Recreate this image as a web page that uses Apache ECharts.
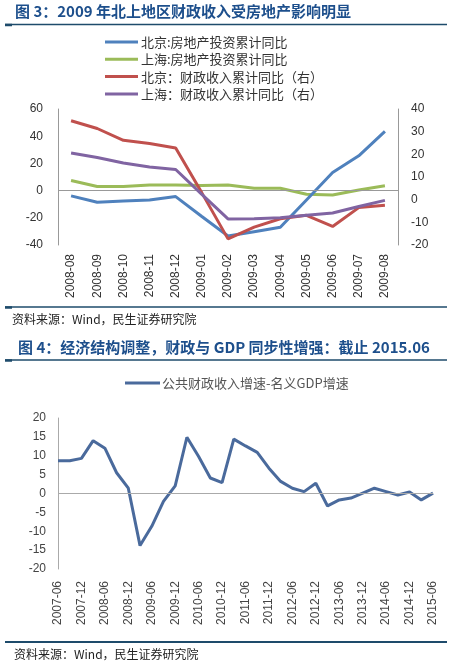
<!DOCTYPE html>
<html>
<head>
<meta charset="utf-8">
<script src="https://cdn.jsdelivr.net/npm/echarts@6/dist/echarts.min.js"></script>
<style>
html,body{margin:0;padding:0;background:#fff;}
#c{width:455px;height:665px;}
</style>
</head>
<body>
<div id="c"></div>
<script>
// ---- Figure 3 data ----
var cats1 = ['2008-08','2008-09','2008-10','2008-11','2008-12','2009-01','2009-02','2009-03','2009-04','2009-05','2009-06','2009-07','2009-08'];
var bjInvest = [-3.9,-8.6,-7.6,-6.9,-4.4,-19.0,-33.4,-30.2,-27.0,-6.9,13.3,25.6,43.5];
var shInvest = [7.4,3.0,3.0,4.2,4.2,3.7,4.2,1.7,1.7,-2.7,-3.2,0.5,3.5];
var bjRevenue = [34.8,31.4,26.2,24.8,22.8,3.0,-17.3,-12.1,-8.4,-6.9,-11.8,-3.5,-2.5];
var shRevenue = [20.6,18.6,16.2,14.4,13.3,2.3,-8.5,-8.4,-8.0,-6.9,-5.9,-3.0,-0.3];
var names1 = ['北京:房地产投资累计同比','上海:房地产投资累计同比','北京：财政收入累计同比（右）','上海：财政收入累计同比（右）'];

// ---- Figure 4 data ----
var cats2 = ['2007-06','2007-09','2007-12','2008-03','2008-06','2008-09','2008-12','2009-03','2009-06','2009-09','2009-12',
             '2010-03','2010-06','2010-09','2010-12','2011-03','2011-06','2011-09','2011-12','2012-03','2012-06','2012-09','2012-12',
             '2013-03','2013-06','2013-09','2013-12','2014-03','2014-06','2014-09','2014-12','2015-03','2015-06'];
var gapSeries = [8.7,8.7,9.3,14.0,12.0,5.5,1.4,-13.8,-8.7,-2.1,2.0,14.9,9.8,4.1,2.9,14.4,12.6,10.9,6.7,3.2,1.4,0.5,2.7,-3.3,-1.7,-1.2,0.1,1.4,0.5,-0.4,0.4,-1.7,0.1];
var name2 = '公共财政收入增速-名义GDP增速';

var title1 = '图 3：2009 年北上地区财政收入受房地产影响明显';
var title2 = '图 4：经济结构调整，财政与 GDP 同步性增强：截止 2015.06';
var source = '资料来源：Wind，民生证券研究院';

var cjk = '"Noto Sans CJK SC", "Liberation Sans", sans-serif';
var lab = '"Liberation Sans", "Noto Sans CJK SC", sans-serif';
var titleColor = '#1d4f8c';
var ruleColor = '#1e4b6b';

var chart = echarts.init(document.getElementById('c'), null, {renderer:'canvas'});

function zeroLine(color){
  return {silent:true, symbol:['none','none'], label:{show:false},
    lineStyle:{color:color, width:1, type:'solid'}, data:[{yAxis:0}], animation:false};
}

var option = {
  backgroundColor:'#fff',
  animation:false,
  graphic:[
    {type:'text', left:15, top:4, style:{text:title1, font:'bold 15px '+cjk, fill:titleColor}},
    {type:'line', shape:{x1:5,y1:24.5,x2:447,y2:24.5}, style:{stroke:ruleColor, lineWidth:1.5}},
    {type:'line', shape:{x1:5,y1:25,x2:12,y2:25}, style:{stroke:ruleColor, lineWidth:2.5}},
    {type:'line', shape:{x1:5,y1:307,x2:447,y2:307}, style:{stroke:ruleColor, lineWidth:1.5}},
    {type:'line', shape:{x1:5,y1:307.5,x2:12,y2:307.5}, style:{stroke:ruleColor, lineWidth:2.5}},
    {type:'text', left:12, top:313, style:{text:source, font:'12px '+cjk, fill:'#222'}},
    {type:'text', left:18, top:340, style:{text:title2, font:'bold 15px '+cjk, fill:titleColor}},
    {type:'line', shape:{x1:5,y1:360,x2:447,y2:360}, style:{stroke:ruleColor, lineWidth:1.5}},
    {type:'line', shape:{x1:5,y1:360.5,x2:12,y2:360.5}, style:{stroke:ruleColor, lineWidth:2.5}},
    {type:'line', shape:{x1:5,y1:642,x2:447,y2:642}, style:{stroke:ruleColor, lineWidth:2}},
    {type:'text', left:14, top:648, style:{text:source, font:'12px '+cjk, fill:'#222'}}
  ],
  legend:[
    {orient:'vertical', left:105, top:35, padding:0, itemWidth:33, itemHeight:3, itemGap:3.3, icon:'rect',
     textStyle:{fontSize:13, fontFamily:cjk, color:'#333', lineHeight:14, padding:[0,0,0,-2]},
     data:names1},
    {left:125, top:376, padding:0, itemWidth:35, itemHeight:3, icon:'rect',
     textStyle:{fontSize:13, fontFamily:cjk, color:'#555', lineHeight:14, padding:[0,0,0,-3]},
     data:[name2]}
  ],
  grid:[
    {left:58, right:57, top:109, height:136},
    {left:58, right:22, top:418, height:151}
  ],
  xAxis:[
    {type:'category', gridIndex:0, data:cats1, boundaryGap:true,
     axisLine:{show:false}, axisTick:{show:false},
     axisLabel:{rotate:90, margin:9, fontSize:12, fontFamily:lab, color:'#333', interval:0}},
    {type:'category', gridIndex:1, data:cats2, boundaryGap:false,
     axisLine:{show:false}, axisTick:{show:false},
     axisLabel:{rotate:90, margin:12, fontSize:12, fontFamily:lab, color:'#444', interval:1}}
  ],
  yAxis:[
    {type:'value', gridIndex:0, min:-40, max:60, interval:20, position:'left',
     axisLine:{show:true, lineStyle:{color:'#999'}}, axisTick:{show:false}, splitLine:{show:false},
     axisLabel:{margin:15, fontSize:12, fontFamily:lab, color:'#333'}},
    {type:'value', gridIndex:0, min:-20, max:40, interval:10, position:'right',
     axisLine:{show:true, lineStyle:{color:'#999'}}, axisTick:{show:false}, splitLine:{show:false},
     axisLabel:{margin:13, fontSize:12, fontFamily:lab, color:'#333'}},
    {type:'value', gridIndex:1, min:-20, max:20, interval:5,
     axisLine:{show:true, lineStyle:{color:'#aaa'}}, axisTick:{show:false}, splitLine:{show:false},
     axisLabel:{margin:12, fontSize:12, fontFamily:lab, color:'#444'}}
  ],
  series:[
    {name:names1[0], type:'line', xAxisIndex:0, yAxisIndex:0, data:bjInvest, symbol:'none',
     lineStyle:{width:3, color:'#4f81bd'}, itemStyle:{color:'#4f81bd'}, z:4, markLine:zeroLine('#999')},
    {name:names1[1], type:'line', xAxisIndex:0, yAxisIndex:0, data:shInvest, symbol:'none',
     lineStyle:{width:3, color:'#9bbb59'}, itemStyle:{color:'#9bbb59'}, z:3},
    {name:names1[2], type:'line', xAxisIndex:0, yAxisIndex:1, data:bjRevenue, symbol:'none',
     lineStyle:{width:3, color:'#c0504d'}, itemStyle:{color:'#c0504d'}, z:5},
    {name:names1[3], type:'line', xAxisIndex:0, yAxisIndex:1, data:shRevenue, symbol:'none',
     lineStyle:{width:3, color:'#8064a2'}, itemStyle:{color:'#8064a2'}, z:6},
    {name:name2, type:'line', xAxisIndex:1, yAxisIndex:2, data:gapSeries, symbol:'none',
     lineStyle:{width:3, color:'#4a6a9c'}, itemStyle:{color:'#4a6a9c'}, markLine:zeroLine('#aaa')}
  ]
};
chart.setOption(option);
</script>
</body>
</html>
